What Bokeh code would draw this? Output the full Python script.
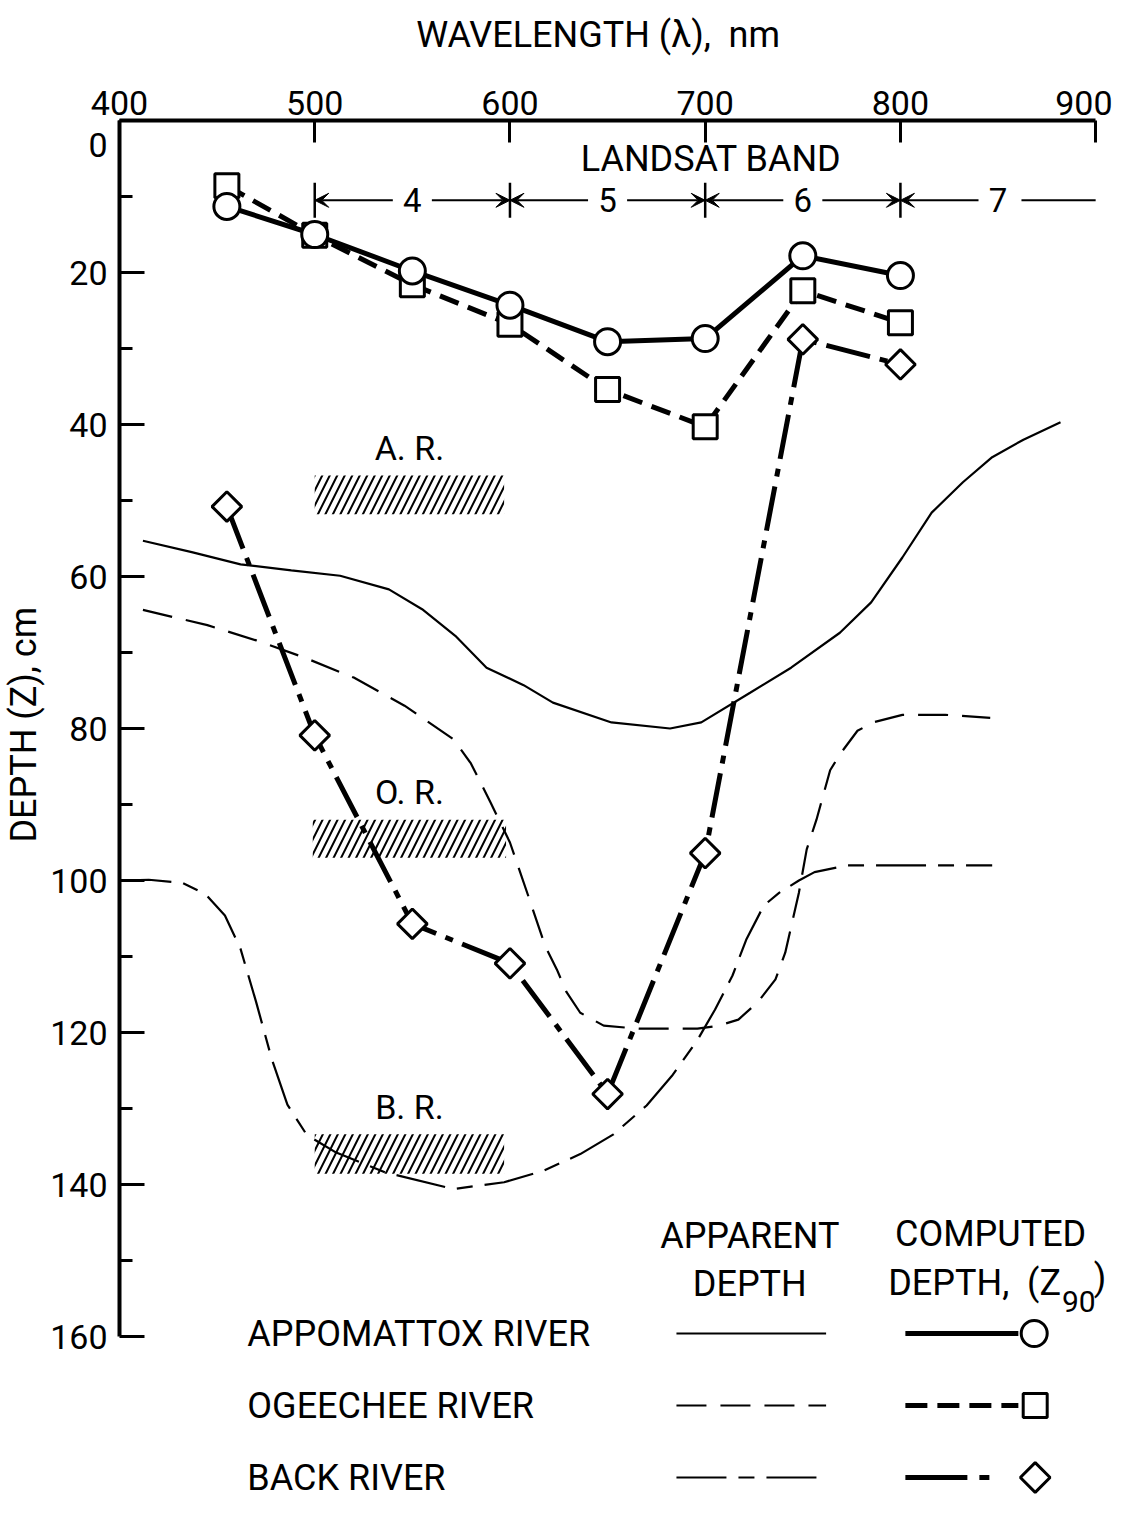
import numpy as np
from bokeh.plotting import figure
from bokeh.models import Range1d, FixedTicker, Arrow, VeeHead
from bokeh.core.properties import value
from bokeh.embed import file_html
from bokeh.resources import INLINE

FONT = "Roboto"
NB = "\u00a0"

# ---------------- data ----------------
x_ticks = [400, 500, 600, 700, 800, 900]
y_ticks = [0, 20, 40, 60, 80, 100, 120, 140, 160]
y_minor_ticks = [10, 30, 50, 70, 90, 110, 130, 150]

# computed depth (Z90), cm
wavelength_computed = [455, 500, 550, 600, 650, 700, 750, 800]
appomattox_computed = [11.3, 15.0, 19.8, 24.3, 29.1, 28.7, 17.8, 20.4]
ogeechee_computed = [8.6, 15.1, 21.6, 26.8, 35.4, 40.3, 22.4, 26.6]
back_computed = [50.8, 80.9, 105.7, 110.9, 128.1, 96.4, 28.8, 32.1]

# apparent depth curves
appomattox_wl = [412, 437, 462, 488, 513, 538, 555, 572, 588, 607, 622, 652, 682, 698,
                 723, 744, 769, 785, 801, 816, 832, 847, 863, 882]
appomattox_depth = [55.3, 56.8, 58.4, 59.2, 59.9, 61.7, 64.3, 67.8, 72.0, 74.3, 76.6, 79.2,
                    80.0, 79.2, 75.3, 72.0, 67.4, 63.4, 57.5, 51.6, 47.6, 44.3, 42.0, 39.7]

ogeechee_wl = [412, 445, 470, 495, 520, 546, 571, 580, 590, 600, 610, 618, 624, 629, 636,
               648, 666, 696, 707, 717, 727, 736, 741, 748, 752, 757, 764, 769, 778, 786,
               801, 823, 846]
ogeechee_depth = [64.4, 66.4, 68.4, 70.7, 73.3, 77.0, 81.4, 84.6, 89.7, 95.0, 102.5, 108.6,
                  111.7, 114.7, 117.4, 119.1, 119.5, 119.5, 119.1, 118.3, 116.0, 113.0, 109.5,
                  101.6, 95.9, 92.0, 85.5, 83.4, 80.3, 79.2, 78.2, 78.2, 78.6]

back_wl = [401, 415, 432, 444, 454, 462, 470, 478, 486, 496, 511, 536, 571, 597, 617, 636,
           653, 670, 683, 696, 705, 714, 721, 730, 738, 748, 756, 773, 847]
back_depth = [100.0, 99.9, 100.3, 101.8, 104.6, 109.0, 116.0, 123.5, 129.5, 133.5, 135.8,
              138.4, 140.6, 139.7, 138.2, 136.0, 133.4, 129.6, 125.7, 121.0, 117.0, 112.5,
              107.8, 103.3, 101.6, 100.0, 98.9, 98.0, 98.0]

# hatched reach boxes
reach_names = ["A. R.", "O. R.", "B. R."]
reach_left = [500, 499, 500]
reach_right = [597, 598, 597]
reach_top = [46.7, 92.0, 133.4]
reach_bottom = [51.8, 97.0, 138.6]

# Landsat bands
band_names = ["4", "5", "6", "7"]
band_lo = [500, 600, 700, 800]
band_hi = [600, 700, 800, 900]

# ---------------- figure ----------------
W, H = 1112, 1498
LEFT, TOP = 110, 120
PX_NM, PX_CM = 1.97, 7.6
x_end = 400 + (W - LEFT) / PX_NM
y_end = (H - TOP) / PX_CM

p = figure(width=W, height=H, x_range=Range1d(400, x_end), y_range=Range1d(y_end, 0),
           x_axis_location="above", output_backend="svg", toolbar_location=None,
           min_border_left=LEFT, min_border_top=TOP, min_border_right=0, min_border_bottom=0,
           background_fill_color="white", border_fill_color="white")
p.outline_line_color = None
p.grid.visible = False

xa = p.xaxis[0]
xa.ticker = FixedTicker(ticks=x_ticks, minor_ticks=[])
xa.bounds = (400, 900)
xa.axis_line_width = 4
xa.axis_line_color = "black"
xa.major_tick_line_width = 3
xa.major_tick_line_color = "black"
xa.major_tick_in = 22
xa.major_tick_out = 0
xa.minor_tick_line_color = None
xa.major_label_text_font = FONT
xa.major_label_text_font_size = "34px"
xa.major_label_text_color = "black"
xa.major_label_standoff = 6
xa.axis_label = "WAVELENGTH (\u03bb)," + NB + NB + "nm" + NB * 4
xa.axis_label_text_font = FONT
xa.axis_label_text_font_size = "36px"
xa.axis_label_text_font_style = "normal"
xa.axis_label_text_color = "black"
xa.axis_label_standoff = 32

ya = p.yaxis[0]
ya.ticker = FixedTicker(ticks=y_ticks, minor_ticks=y_minor_ticks)
ya.bounds = (0, 160)
ya.axis_line_width = 4
ya.axis_line_color = "black"
ya.major_tick_line_width = 3
ya.major_tick_line_color = "black"
ya.minor_tick_line_width = 3
ya.minor_tick_line_color = "black"
ya.major_tick_in = 25
ya.major_tick_out = 0
ya.minor_tick_in = 13
ya.minor_tick_out = 0
ya.major_label_text_font = FONT
ya.major_label_text_font_size = "34px"
ya.major_label_text_color = "black"
ya.major_label_standoff = 12
ya.major_label_overrides = {0: "\n0"}
ya.axis_label = NB * 19 + "DEPTH (Z), cm"
ya.axis_label_text_font = FONT
ya.axis_label_text_font_size = "36px"
ya.axis_label_text_font_style = "normal"
ya.axis_label_text_color = "black"
ya.axis_label_standoff = 2

# apparent depth curves
p.line(appomattox_wl, appomattox_depth, line_width=2.2, color="black")
p.line(ogeechee_wl, ogeechee_depth, line_width=2.2, color="black", line_dash="30 14")
p.line(back_wl, back_depth, line_width=2.2, color="black", line_dash="50 12 16 12")

# hatched reach boxes
p.quad(left=reach_left, right=reach_right, top=reach_top, bottom=reach_bottom,
       fill_alpha=0, line_color=None, hatch_pattern="/", hatch_color="black",
       hatch_weight=2, hatch_scale=15)
p.text(x=[(l + r) / 2 for l, r in zip(reach_left, reach_right)],
       y=[t - 3.6 for t in reach_top], text=reach_names, text_font=value(FONT),
       text_font_size="34px", text_align="center", text_baseline="middle", text_color="black")

# computed depth lines
p.line(wavelength_computed, back_computed, line_width=5, color="black", line_dash="45 10 8 10")
p.line(wavelength_computed, ogeechee_computed, line_width=5, color="black", line_dash="20 10")
p.line(wavelength_computed, appomattox_computed, line_width=5, color="black")
p.scatter(wavelength_computed, back_computed, marker="square", angle=np.pi / 4, size=21,
          fill_color="white", line_color="black", line_width=3)
p.scatter(wavelength_computed, ogeechee_computed, marker="square", size=24,
          fill_color="white", line_color="black", line_width=3)
p.scatter(wavelength_computed, appomattox_computed, marker="circle", size=26,
          fill_color="white", line_color="black", line_width=3)

# Landsat band annotation
BAND_Y = 10.5
p.text(x=[703], y=[5.0], text=["LANDSAT BAND"], text_font=value(FONT), text_font_size="36px",
       text_align="center", text_baseline="middle", text_color="black")
p.segment(x0=band_lo, y0=8.2, x1=band_lo, y1=12.8, line_width=2.5, color="black")
mids = [(lo + hi) / 2 for lo, hi in zip(band_lo, band_hi)]
p.text(x=mids, y=BAND_Y, text=band_names, text_font=value(FONT), text_font_size="33px",
       text_align="center", text_baseline="middle", text_color="black")
for lo, hi, m, name in zip(band_lo, band_hi, mids, band_names):
    p.add_layout(Arrow(end=VeeHead(size=14, fill_color="black", line_color="black", line_width=1),
                       x_start=m - 10, y_start=BAND_Y, x_end=lo, y_end=BAND_Y,
                       line_width=2, line_color="black"))
    if name != "7":
        p.add_layout(Arrow(end=VeeHead(size=14, fill_color="black", line_color="black", line_width=1),
                           x_start=m + 10, y_start=BAND_Y, x_end=hi, y_end=BAND_Y,
                           line_width=2, line_color="black"))
    else:
        p.segment(x0=[m + 12], y0=[BAND_Y], x1=[hi], y1=[BAND_Y], line_width=2, color="black")

# legend (drawn as a table)
def wx(px):
    return 400 + (px - 118) / PX_NM

def dy(py):
    return (py - 128) / PX_CM

hdr = dict(text_font=value(FONT), text_font_size="36px", text_align="center",
           text_baseline="middle", text_color="black")
p.text(x=[wx(754), wx(754), wx(997)], y=[dy(1243), dy(1291), dy(1241)],
       text=["APPARENT", "DEPTH", "COMPUTED"], **hdr)
p.text(x=[wx(1068)], y=[dy(1290)], text=["DEPTH," + NB + NB + "(Z"], text_font=value(FONT),
       text_font_size="36px", text_align="right", text_baseline="middle", text_color="black")
p.text(x=[wx(1069)], y=[dy(1309)], text=["90"], text_font=value(FONT),
       text_font_size="30px", text_align="left", text_baseline="middle", text_color="black")
p.text(x=[wx(1101)], y=[dy(1285)], text=[")"], text_font=value(FONT),
       text_font_size="36px", text_align="left", text_baseline="middle", text_color="black")

legend_names = ["APPOMATTOX RIVER", "OGEECHEE RIVER", "BACK RIVER"]
row_y = [dy(1341), dy(1413), dy(1485)]
p.text(x=[wx(247)] * 3, y=row_y, text=legend_names, text_font=value(FONT),
       text_font_size="36px", text_align="left", text_baseline="middle", text_color="black")

app_dash = ["solid", "30 14", "50 12 16 12"]
comp_dash = ["solid", "22 10", "62 12 10 40"]
for yy, ad, cd in zip(row_y, app_dash, comp_dash):
    p.line([wx(680), wx(831)], [yy, yy], line_width=2.2, color="black", line_dash=ad)
    p.line([wx(911), wx(1025)], [yy, yy], line_width=5, color="black", line_dash=cd)
p.scatter([wx(1041)], [row_y[0]], marker="circle", size=26, fill_color="white",
          line_color="black", line_width=3)
p.scatter([wx(1042)], [row_y[1]], marker="square", size=24, fill_color="white",
          line_color="black", line_width=3)
p.scatter([wx(1042)], [row_y[2]], marker="square", angle=np.pi / 4, size=21, fill_color="white",
          line_color="black", line_width=3)

open("out.html", "w").write(file_html(p, INLINE))
